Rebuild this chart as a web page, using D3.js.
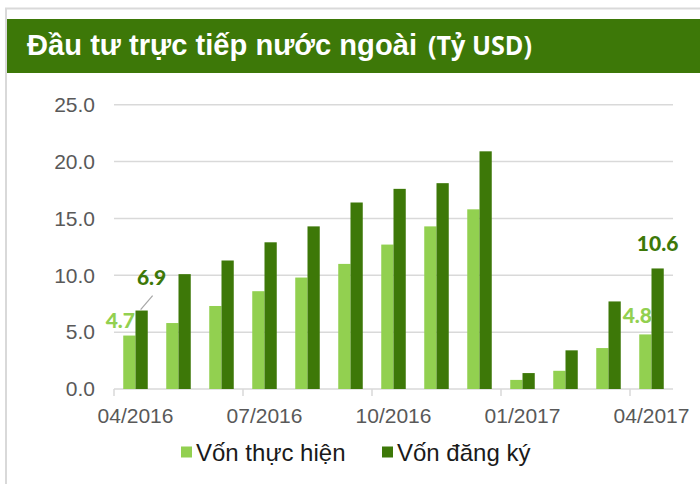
<!DOCTYPE html>
<html>
<head>
<meta charset="utf-8">
<script src="https://cdn.jsdelivr.net/npm/d3@7"></script>
<style>
  html, body { margin: 0; padding: 0; background: #fff; }
  svg { display: block; }
</style>
</head>
<body>
<script>
// months on the x axis
const months = ["04/2016", "05/2016", "06/2016", "07/2016", "08/2016", "09/2016",
  "10/2016", "11/2016", "12/2016", "01/2017", "02/2017", "03/2017", "04/2017"];

// Vốn thực hiện (light) and Vốn đăng ký (dark), tỷ USD
const vonThucHien = [4.7, 5.8, 7.3, 8.6, 9.8, 11.0, 12.7, 14.3, 15.8, 0.8, 1.6, 3.6, 4.8];
const vonDangKy = [6.9, 10.1, 11.3, 12.9, 14.3, 16.4, 17.6, 18.1, 20.9, 1.4, 3.4, 7.7, 10.6];

const seriesNames = ["Vốn thực hiện", "Vốn đăng ký"];
const yTicks = [0, 5, 10, 15, 20, 25];
const xTickLabels = ["04/2016", "07/2016", "10/2016", "01/2017", "04/2017"];
const labelled = [0, 12]; // months that carry value labels

const colors = ["#92d050", "#3d7808"];
const W = 700, H = 484;

const svg = d3.select("body").append("svg")
  .attr("width", W)
  .attr("height", H);

// outer frame
svg.append("rect")
  .attr("x", 6).attr("y", 8.5)
  .attr("width", W + 10).attr("height", H + 10)
  .attr("fill", "none")
  .attr("stroke", "#d9d9d9")
  .attr("stroke-width", 2);

// title bar
svg.append("rect")
  .attr("x", 7).attr("y", 19)
  .attr("width", W - 7).attr("height", 54)
  .attr("fill", "#3d7808");

const title = svg.append("text")
  .attr("y", 55)
  .attr("fill", "#fff")
  .attr("font-weight", "bold");
title.append("tspan")
  .attr("x", 27)
  .attr("font-family", "Liberation Sans, Arial, sans-serif")
  .attr("font-size", 29.5)
  .attr("textLength", 390)
  .attr("lengthAdjust", "spacingAndGlyphs")
  .text("Đầu tư trực tiếp nước ngoài");
title.append("tspan")
  .attr("x", 428)
  .attr("font-family", "Open Sans, sans-serif")
  .attr("font-size", 27)
  .attr("textLength", 104)
  .attr("lengthAdjust", "spacingAndGlyphs")
  .text("(Tỷ USD)");

// scales
const x = d3.scaleBand()
  .domain(months)
  .range([114, 673])
  .paddingInner(0.43)
  .paddingOuter(0.215);

const x1 = d3.scaleBand()
  .domain(seriesNames)
  .range([0, x.bandwidth()]);

const y = d3.scaleLinear().domain([0, 25]).range([389, 104.7]);

// gridlines
svg.append("g")
  .selectAll("line")
  .data(yTicks)
  .join("line")
  .attr("x1", 114).attr("x2", 673)
  .attr("y1", d => y(d)).attr("y2", d => y(d))
  .attr("stroke", "#d9d9d9")
  .attr("stroke-width", 1.5);

// y axis labels
const yAxis = svg.append("g")
  .attr("transform", "translate(95,0)")
  .call(d3.axisLeft(y).tickValues(yTicks).tickFormat(d3.format(".1f")).tickSize(0).tickPadding(0));
yAxis.select(".domain").remove();
yAxis.selectAll("text")
  .attr("fill", "#595959")
  .attr("font-family", "Liberation Sans, Arial, sans-serif")
  .attr("font-size", 21);

// bars
const data = months.map((m, i) => ({ month: m, values: [vonThucHien[i], vonDangKy[i]] }));

svg.append("g")
  .selectAll("g")
  .data(data)
  .join("g")
  .attr("transform", d => "translate(" + x(d.month) + ",0)")
  .selectAll("rect")
  .data(d => d.values.map((v, k) => ({ key: seriesNames[k], value: v, k: k })))
  .join("rect")
  .attr("x", d => x1(d.key))
  .attr("width", x1.bandwidth())
  .attr("y", d => y(d.value))
  .attr("height", d => y(0) - y(d.value))
  .attr("fill", d => colors[d.k]);

// x axis: tick marks between categories, labels every 3 months
const halfGap = x.step() * x.paddingInner() / 2;
const tickPos = months.map((m, i) => i).filter(i => i % 3 === 0);
svg.append("g")
  .selectAll("line")
  .data(tickPos)
  .join("line")
  .attr("x1", i => x(months[i]) - halfGap)
  .attr("x2", i => x(months[i]) - halfGap)
  .attr("y1", y(0)).attr("y2", y(0) + 7)
  .attr("stroke", "#d9d9d9")
  .attr("stroke-width", 1.5);

const xAxis = svg.append("g")
  .attr("transform", "translate(0," + y(0) + ")")
  .call(d3.axisBottom(x).tickValues(xTickLabels).tickSize(0).tickPadding(0));
xAxis.select(".domain").remove();
xAxis.selectAll("text")
  .attr("dy", null)
  .attr("y", 34)
  .attr("fill", "#595959")
  .attr("font-family", "Liberation Sans, Arial, sans-serif")
  .attr("font-size", 21);

// value labels (first and last month)
const labelOffsets = [
  [{ dx: -9, dy: -8 }, { dx: 10, dy: -26 }],
  [{ dx: -8, dy: -11 }, { dx: 0, dy: -17 }]
];
labelled.forEach((i, n) => {
  data[i].values.forEach((v, k) => {
    const cx = x(months[i]) + x1(seriesNames[k]) + x1.bandwidth() / 2;
    svg.append("text")
      .attr("x", cx + labelOffsets[n][k].dx)
      .attr("y", y(v) + labelOffsets[n][k].dy)
      .attr("text-anchor", "middle")
      .attr("fill", colors[k])
      .attr("font-family", "Lato, sans-serif")
      .attr("font-weight", "900")
      .attr("font-size", 21)
      .text(v.toFixed(1));
  });
});

// leader line for the first dark label
{
  const cx = x(months[0]) + x1(seriesNames[1]) + x1.bandwidth() / 2;
  svg.append("line")
    .attr("x1", cx + 11).attr("y1", y(vonDangKy[0]) - 15)
    .attr("x2", cx - 1).attr("y2", y(vonDangKy[0]) - 1)
    .attr("stroke", "#a6a6a6")
    .attr("stroke-width", 1.2);
}

// legend
const legend = svg.append("g");
const legendX = [181, 382];
seriesNames.forEach((name, k) => {
  legend.append("rect")
    .attr("x", legendX[k]).attr("y", 446.5)
    .attr("width", 11).attr("height", 11)
    .attr("fill", colors[k]);
  legend.append("text")
    .attr("x", legendX[k] + 15).attr("y", 461)
    .attr("fill", "#1a1a1a")
    .attr("font-family", "Liberation Sans, Arial, sans-serif")
    .attr("font-size", 24)
    .text(name);
});
</script>
</body>
</html>
